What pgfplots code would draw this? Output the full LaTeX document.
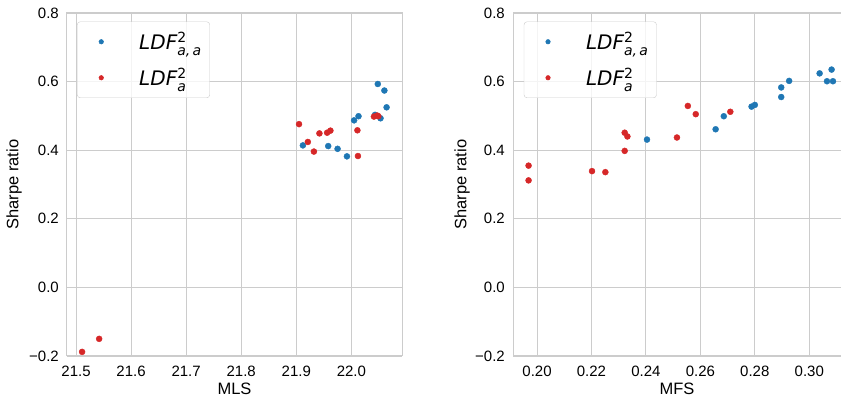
\documentclass[border=0pt]{standalone}
\usepackage{fontspec}
\setmainfont{Liberation Sans}
\newfontfamily\dejavu{DejaVu Sans}
\usepackage{amsmath}
\usepackage{pgfplots}
\pgfplotsset{compat=1.18}

\definecolor{sblue}{HTML}{1F77B4}
\definecolor{sred}{HTML}{D62728}
\definecolor{gridc}{HTML}{CCCCCC}

\newcommand{\ldfaa}{{\dejavu\itshape LDF}$^{\text{\dejavu 2}}_{\text{\dejavu\itshape a,\,a}}$}
\newcommand{\ldfa}{{\dejavu\itshape LDF}$^{\text{\dejavu 2}}_{\text{\dejavu\itshape a}}$}

\pgfplotsset{
  sharpe/.style={
    scale only axis, width=335pt, height=343pt,
    ymin=-0.2, ymax=0.8,
    ytick={-0.2,0,0.2,0.4,0.6,0.8},
    yticklabels={−0.2,0.0,0.2,0.4,0.6,0.8},
    grid=major,
    major grid style={gridc, line width=0.9pt},
    axis line style={gridc, line width=1pt},
    major tick length=0pt,
    tick label style={font=\fontsize{15}{15}\selectfont, inner sep=0pt},
    xticklabel style={yshift=-10pt},
    yticklabel style={xshift=-8pt},
    ylabel={Sharpe ratio},
    label style={font=\fontsize{16.5}{16.5}\selectfont},
    ylabel style={at={(axis description cs:-0.158,0.5)}, anchor=center, rotate=0},
    xlabel style={at={(axis description cs:0.5,-0.096)}, anchor=center},
    legend style={at={(axis description cs:0.03,0.975)}, anchor=north west,
      draw=gridc, rounded corners=3pt, fill=white, fill opacity=0.8, text opacity=1,
      inner xsep=6pt, inner ysep=5pt, row sep=6pt, column sep=0pt,
      font=\fontsize{20}{22}\selectfont,
      nodes={inner sep=2pt, draw=none, rounded corners=0pt}},
    legend cell align=left,
  },
  bdot/.style={only marks, mark=*, mark size=3pt, color=sblue,
    legend image code/.code={\path[draw=none, fill=none] (-18pt,-15pt) rectangle (36pt,15pt);
      \fill[sblue, fill opacity=1] (0pt,0pt) circle (2.3pt);}},
  rdot/.style={only marks, mark=*, mark size=3pt, color=sred,
    legend image code/.code={\path[draw=none, fill=none] (-18pt,-15pt) rectangle (36pt,15pt);
      \fill[sred, fill opacity=1] (0pt,0pt) circle (2.3pt);}},
}

\begin{document}
\begin{tikzpicture}
% left: MLS
\begin{axis}[sharpe,
  xmin=21.4836, xmax=22.092,
  xtick={21.5,21.6,21.7,21.8,21.9,22.0},
  xticklabels={21.5,21.6,21.7,21.8,21.9,22.0},
  xlabel={MLS}]
\addplot[bdot] coordinates {
  (22.048,0.593) (22.060,0.574) (22.064,0.525) (22.013,0.499) (22.005,0.487)
  (22.043,0.503) (22.053,0.493) (21.912,0.414) (21.958,0.412) (21.975,0.404)
  (21.992,0.382)};
\addlegendentry{\ldfaa}
\addplot[rdot] coordinates {
  (21.905,0.476) (21.921,0.424) (21.932,0.396) (21.942,0.449) (21.956,0.451)
  (21.962,0.457) (22.011,0.458) (22.012,0.383) (22.041,0.498) (22.047,0.501)
  (22.049,0.499) (21.511,-0.188) (21.542,-0.150)};
\addlegendentry{\ldfa}
\end{axis}
% right: MFS
\begin{axis}[sharpe, at={(446pt,0pt)}, width=328pt,
  xmin=0.19118, xmax=0.31165,
  xtick={0.20,0.22,0.24,0.26,0.28,0.30},
  xticklabels={0.20,0.22,0.24,0.26,0.28,0.30},
  xlabel={MFS},
  ylabel style={at={(axis description cs:-0.155,0.5)}},
  legend style={at={(axis description cs:0.033,0.975)}}]
\addplot[bdot] coordinates {
  (0.2404,0.431) (0.2656,0.461) (0.2686,0.499) (0.2788,0.527) (0.2800,0.532)
  (0.2897,0.583) (0.2897,0.555) (0.2926,0.602) (0.3038,0.624) (0.3065,0.601)
  (0.3082,0.635) (0.3087,0.601)};
\addlegendentry{\ldfaa}
\addplot[rdot] coordinates {
  (0.1969,0.355) (0.1969,0.312) (0.2202,0.339) (0.2251,0.336) (0.2322,0.451)
  (0.2332,0.440) (0.2322,0.398) (0.2514,0.437) (0.2554,0.529) (0.2583,0.505)
  (0.2710,0.512)};
\addlegendentry{\ldfa}
\end{axis}
\pgfresetboundingbox
\useasboundingbox (-67pt,-45pt) rectangle (774pt,356pt);
\end{tikzpicture}
\end{document}
